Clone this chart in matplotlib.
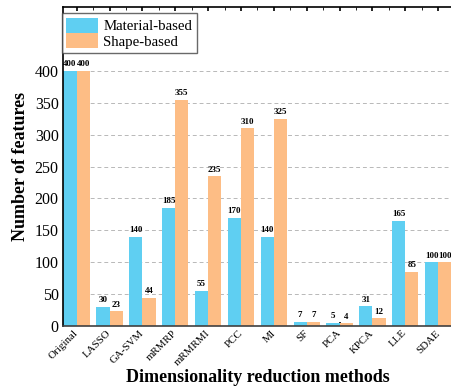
import numpy as np
import matplotlib.pyplot as plt
import matplotlib.transforms as mtransforms
from matplotlib.ticker import MultipleLocator

plt.rcParams['font.family'] = ['Liberation Serif', 'DejaVu Serif']

methods = ['Original', 'LASSO', 'GA-SVM', 'mRMRP', 'mRMRMI', 'PCC', 'MI',
           'SF', 'PCA', 'KPCA', 'LLE', 'SDAE']
material = [400, 30, 140, 185, 55, 170, 140, 7, 5, 31, 165, 100]
shape = [400, 23, 44, 355, 235, 310, 325, 7, 4, 12, 85, 100]

blue = '#5fcff2'
orange = '#fdbd85'
w = 0.4

fig = plt.figure(figsize=(4.52, 3.90), dpi=100)
ax = fig.add_axes([0.139, 0.164, 0.861, 0.818])

x = np.arange(len(methods))
b1 = ax.bar(x - w / 2, material, w, color=blue, label='Material-based', zorder=2)
b2 = ax.bar(x + w / 2, shape, w, color=orange, label='Shape-based', zorder=2)

for bars in (b1, b2):
    for r in bars:
        ax.text(r.get_x() + r.get_width() / 2, r.get_height() + 4,
                f'{int(r.get_height())}', ha='center', va='bottom',
                fontsize=6.5, fontweight='bold')

ax.set_xlim(-0.42, 11.42)
ax.set_ylim(0, 500)
ax.set_yticks(np.arange(0, 401, 50))
ax.yaxis.grid(True, linestyle=(0, (4, 3)), color='#b8b8b8', linewidth=0.7, zorder=0)
ax.set_axisbelow(True)

ax.set_xticks(x)
ax.set_xticklabels(methods, rotation=45, ha='right', va='center',
                   rotation_mode='anchor', fontsize=7.8)
# shift the rotated labels a little to the right of their ticks
shift = mtransforms.ScaledTranslation(10 / 100, -2 / 100, fig.dpi_scale_trans)
for lbl in ax.get_xticklabels():
    lbl.set_transform(lbl.get_transform() + shift)
ax.xaxis.set_minor_locator(MultipleLocator(0.5))
ax.tick_params(axis='x', which='major', direction='in', length=3, width=1.2,
               top=True, pad=4)
ax.tick_params(axis='x', which='minor', direction='in', length=2, width=0.6,
               top=True, bottom=False)
ax.tick_params(axis='y', direction='in', length=0, labelsize=11.5, pad=3)

for s in ax.spines.values():
    s.set_linewidth(1.2)
ax.spines['bottom'].set_color('#404040')

ax.set_xlabel('Dimensionality reduction methods', fontsize=13, fontweight='bold')
ax.xaxis.set_label_coords(0.5, -0.135)
ax.set_ylabel('Number of features', fontsize=13, fontweight='bold', labelpad=4)

ax.legend(loc='upper left', bbox_to_anchor=(-0.003, 0.981), fontsize=10.7,
          frameon=True, fancybox=False, edgecolor='#444444', borderpad=0.3,
          handlelength=2.15, handleheight=1.2, handletextpad=0.35,
          labelspacing=0.0, borderaxespad=0.0)

fig.savefig('out.png', dpi=100)
